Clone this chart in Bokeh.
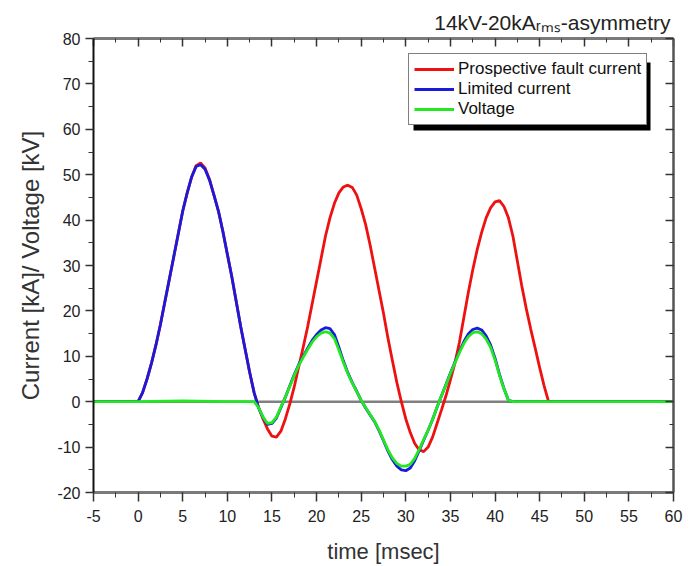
from bokeh.plotting import figure
from bokeh.models import (Range1d, SingleIntervalTicker, LinearAxis, Span,
                          Legend, LegendItem, BoxAnnotation, CustomJSTickFormatter)
from bokeh.embed import file_html
from bokeh.resources import INLINE

# ---------------- data ----------------
# Prospective fault current [kA]
t_prospective = [-5, 0, 0.5, 1, 1.5, 2, 2.5, 3, 3.5, 4, 4.5, 5, 5.5, 6, 6.5, 7, 7.5, 8, 8.5, 9, 9.5,
                 10, 10.5, 11, 11.5, 12, 12.5, 13, 13.5, 14, 14.5, 15, 15.5, 16, 16.5, 17, 17.5, 18,
                 18.5, 19, 19.5, 20, 20.5, 21, 21.5, 22, 22.5, 23, 23.5, 24, 24.5, 25, 25.5, 26, 26.5,
                 27, 27.5, 28, 28.5, 29, 29.5, 30, 30.5, 31, 31.5, 32, 32.5, 33, 33.5, 34, 34.5, 35,
                 35.5, 36, 36.5, 37, 37.5, 38, 38.5, 39, 39.5, 40, 40.5, 41, 41.5, 42, 42.5, 43, 43.5,
                 44, 44.5, 45, 45.5, 46, 50, 55, 60]
i_prospective = [0, 0, 2, 5, 8.5, 12.5, 17, 22, 27, 32, 37, 42, 46, 49.5, 52, 52.6, 51.5, 49, 45.5, 42, 37.5,
                 32.5, 27.5, 22, 16.5, 11.5, 6.5, 2, -1.3, -3.8, -6.0, -7.6, -7.8, -6.5, -3.8, -0.5, 3.3, 7.7,
                 12, 16.5, 21.5, 26.5, 31.5, 36.5, 40.5, 43.7, 46, 47.3, 47.7, 47.2, 45.5, 42.5, 39, 34.5, 29.5,
                 24.5, 19.5, 14, 9, 4.2, 0, -3.8, -6.8, -9.2, -10.6, -11, -10, -7.8, -4.8, -1.8, 1.3, 4.8,
                 8.5, 13, 18.5, 24, 29, 33.5, 37.3, 40.5, 42.7, 44, 44.3, 43, 40.5, 36.5, 31, 25.5, 20.5,
                 16, 11.8, 7.5, 3.5, 0, 0, 0, 0]

# Limited current [kA]
t_limited = [-5, 0, 0.5, 1, 1.5, 2, 2.5, 3, 3.5, 4, 4.5, 5, 5.5, 6, 6.5, 7, 7.5, 8, 8.5, 9, 9.5,
             10, 10.5, 11, 11.5, 12, 12.5, 13, 13.5, 14, 14.5, 15, 15.5, 16, 16.5, 17, 17.5, 18,
             18.5, 19, 19.5, 20, 20.5, 21, 21.5, 22, 22.5, 23, 23.5, 24, 24.5, 25, 25.5, 26, 26.5,
             27, 27.5, 28, 28.5, 29, 29.5, 30, 30.5, 31, 31.5, 32, 32.5, 33, 33.5, 34, 34.5, 35,
             35.5, 36, 36.5, 37, 37.5, 38, 38.5, 39, 39.5, 40, 40.5, 41, 41.5, 42, 50, 60]
i_limited = [0, 0, 2, 5, 8.5, 12.5, 17, 22, 27, 32, 37, 42, 46, 49.5, 51.8, 52.2, 51.2, 48.8, 45.5, 42, 37.5,
             32.5, 27.5, 22, 16.5, 11.5, 6.5, 2, -1.3, -3.5, -5.0, -4.8, -3.6, -1.3, 1.0, 3.5, 6.0, 8.2,
             10, 11.8, 13.5, 14.8, 15.8, 16.3, 16.1, 14.8, 12.0, 9.0, 6.4, 4.2, 2.3, 0.3, -1.4, -2.9, -4.4,
             -6.4, -8.6, -10.9, -12.8, -14.2, -15.0, -15.2, -14.6, -13.0, -10.8, -8.5, -6.3, -3.9, -1.2, 1.3, 3.8, 6.3,
             8.7, 11.0, 13.2, 14.9, 15.9, 16.2, 15.8, 14.5, 12.5, 9.6, 6.0, 2.9, 0.3, 0, 0, 0]

# Voltage [kV]
t_voltage = [-5, 0, 5, 10, 13, 13.5, 14, 14.5, 15, 15.5, 16, 16.5, 17, 17.5, 18,
             18.5, 19, 19.5, 20, 20.5, 21, 21.5, 22, 22.5, 23, 23.5, 24, 24.5, 25, 25.5, 26, 26.5,
             27, 27.5, 28, 28.5, 29, 29.5, 30, 30.5, 31, 31.5, 32, 32.5, 33, 33.5, 34, 34.5, 35,
             35.5, 36, 36.5, 37, 37.5, 38, 38.5, 39, 39.5, 40, 40.5, 41, 41.5, 42, 50, 60]
v_voltage = [0, 0, 0.2, 0, 0, -1.3, -3.4, -4.8, -4.6, -3.4, -1.2, 1.0, 3.4, 5.8, 8.0,
             9.8, 11.5, 13.1, 14.3, 15.1, 15.4, 15.1, 13.9, 11.4, 8.7, 6.2, 4.1, 2.2, 0.3, -1.3, -2.8, -4.3,
             -6.2, -8.4, -10.6, -12.4, -13.6, -14.2, -14.2, -13.8, -12.5, -10.5, -8.3, -6.3, -3.9, -1.2, 1.3, 3.7, 6.2,
             8.5, 10.8, 12.8, 14.3, 15.2, 15.4, 15.0, 13.8, 12.0, 9.2, 5.8, 2.8, 0.3, 0, 0, 0]

series_names = ["Prospective fault current", "Limited current", "Voltage"]
title_text = "14kV-20kA\u1d63\u2098\u209b-asymmetry"
x_label = "time [msec]"
y_label = "Current [kA]/ Voltage [kV]"
x_ticks_interval = 5
y_ticks_interval = 10

# ---------------- figure ----------------
FONT = "Liberation Sans"
p = figure(width=694, height=566, x_range=Range1d(-5, 60), y_range=Range1d(-20, 80),
           output_backend="svg", toolbar_location=None,
           min_border_left=93, min_border_right=21, min_border_top=38, min_border_bottom=73)
p.outline_line_color = None
p.xgrid.visible = False
p.ygrid.visible = False
p.background_fill_color = "white"
p.border_fill_color = "white"

p.title.text = title_text
p.title.align = "right"
p.title.text_font = FONT
p.title.text_font_size = "21px"
p.title.text_font_style = "normal"
p.title.text_color = "#222222"
p.title.standoff = 9
p.title.offset = 3

minus_fix = {-5: "-5", -10: "-10", -20: "-20"}

xa = p.xaxis[0]
xa.ticker = SingleIntervalTicker(interval=x_ticks_interval, num_minor_ticks=2)
xa.axis_line_color = "#7a7a7a"
xa.axis_line_width = 3
xa.major_tick_out = 9
xa.major_tick_in = 0
xa.minor_tick_out = 5
xa.minor_tick_in = 0
xa.major_tick_line_color = "#333333"
xa.minor_tick_line_color = "#333333"
xa.major_tick_line_width = 1.5
xa.major_label_standoff = 8
xa.major_label_text_font = FONT
xa.major_label_text_font_size = "16px"
xa.major_label_text_color = "#222222"
xa.major_label_overrides = minus_fix
xa.axis_label = x_label
xa.axis_label_text_font = FONT
xa.axis_label_text_font_size = "22px"
xa.axis_label_text_font_style = "normal"
xa.axis_label_text_color = "#333333"
xa.axis_label_standoff = 14

ya = p.yaxis[0]
ya.ticker = SingleIntervalTicker(interval=y_ticks_interval, num_minor_ticks=2)
ya.axis_line_color = "#111111"
ya.axis_line_width = 2
ya.major_tick_out = 8
ya.major_tick_in = 0
ya.minor_tick_out = 5
ya.minor_tick_in = 0
ya.major_tick_line_color = "#333333"
ya.minor_tick_line_color = "#333333"
ya.major_tick_line_width = 1.5
ya.major_label_standoff = 5
ya.major_label_text_font = FONT
ya.major_label_text_font_size = "16px"
ya.major_label_text_color = "#222222"
ya.major_label_overrides = minus_fix
ya.axis_label = y_label
ya.axis_label_text_font = FONT
ya.axis_label_text_font_size = "24px"
ya.axis_label_text_font_style = "normal"
ya.axis_label_text_color = "#333333"
ya.axis_label_standoff = 10

top = LinearAxis(ticker=SingleIntervalTicker(interval=x_ticks_interval, num_minor_ticks=2),
                 formatter=CustomJSTickFormatter(code="return ''"), major_label_standoff=0,
                 major_tick_in=8, major_tick_out=0, minor_tick_in=4, minor_tick_out=0,
                 major_tick_line_color="#333333", minor_tick_line_color="#333333",
                 major_tick_line_width=1.5,
                 axis_line_color="#7a7a7a", axis_line_width=3)
p.add_layout(top, "above")
right = LinearAxis(ticker=SingleIntervalTicker(interval=y_ticks_interval, num_minor_ticks=2),
                   formatter=CustomJSTickFormatter(code="return ''"), major_label_standoff=0,
                   major_tick_in=8, major_tick_out=0, minor_tick_in=4, minor_tick_out=0,
                   major_tick_line_color="#333333", minor_tick_line_color="#333333",
                   major_tick_line_width=1.5,
                   axis_line_color="#555555", axis_line_width=2.5)
p.add_layout(right, "right")

# zero line
p.add_layout(Span(location=0, dimension="width", line_color="#808080", line_width=2.5, level="underlay"))

r_red = p.line(t_prospective, i_prospective, line_color="#ee1111", line_width=2.8)
r_blue = p.line(t_limited, i_limited, line_color="#1a1adc", line_width=2.8)
r_green = p.line(t_voltage, v_voltage, line_color="#22e822", line_width=2.8)

# legend shadow + legend
shadow = BoxAnnotation(left=320, right=557, bottom=362, top=430,
                       left_units="screen", right_units="screen",
                       bottom_units="screen", top_units="screen",
                       fill_color="black", fill_alpha=1.0, line_color=None)
p.add_layout(shadow)
legend = Legend(items=[LegendItem(label=series_names[0], renderers=[r_red]),
                       LegendItem(label=series_names[1], renderers=[r_blue]),
                       LegendItem(label=series_names[2], renderers=[r_green])],
                location=(315, 367), orientation="vertical",
                label_text_font=FONT, label_text_font_size="17px", label_text_color="#111111",
                glyph_width=40, glyph_height=20, label_height=20, label_standoff=4,
                padding=5, spacing=0, margin=0,
                border_line_color="black", border_line_width=1,
                background_fill_color="white", background_fill_alpha=1.0)
p.add_layout(legend)

open("out.html", "w").write(file_html(p, INLINE))
